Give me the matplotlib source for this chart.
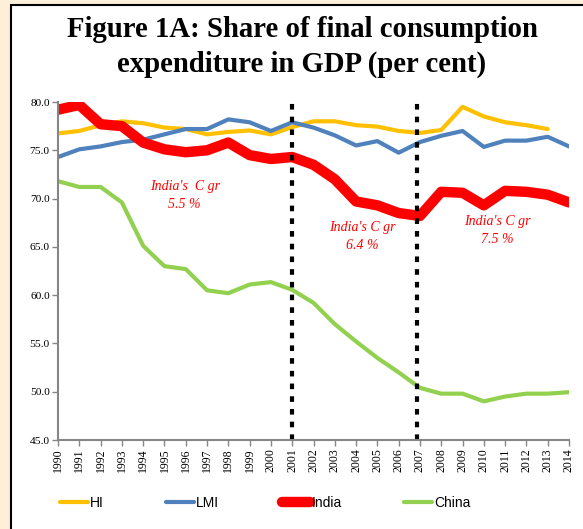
import matplotlib
matplotlib.use("Agg")
import matplotlib.pyplot as plt
from matplotlib.patches import Rectangle
from matplotlib.lines import Line2D

years = list(range(1990, 2015))

hi = [76.75, 77.0, 77.6, 78.0, 77.8, 77.35, 77.2, 76.65, 76.9, 77.05, 76.65, 77.4,
      78.0, 78.0, 77.6, 77.45, 77.0, 76.8, 77.1, 79.5, 78.5, 77.9, 77.6, 77.2, None]
lmi = [74.3, 75.1, 75.4, 75.85, 76.1, 76.65, 77.2, 77.2, 78.2, 77.9, 77.0, 77.9,
       77.35, 76.55, 75.5, 75.95, 74.75, 75.85, 76.5, 77.0, 75.35, 76.0, 76.0, 76.4, 75.4]
india = [79.2, 79.7, 77.7, 77.5, 75.8, 75.1, 74.8, 75.0, 75.8, 74.5, 74.1, 74.3,
         73.5, 72.0, 69.7, 69.3, 68.5, 68.2, 70.7, 70.6, 69.3, 70.8, 70.7, 70.4, 69.6]
china = [71.8, 71.2, 71.2, 69.6, 65.1, 63.0, 62.7, 60.5, 60.2, 61.1, 61.35, 60.55,
         59.2, 57.0, 55.2, 53.5, 52.0, 50.4, 49.8, 49.8, 49.0, 49.5, 49.8, 49.8, 49.95]

period_breaks = [2001, 2006.86]
notes = ["India's  C gr\n5.5 %", "India's C gr\n6.4 %", "India's C gr\n7.5 %"]
note_pos = [(1995.95, 70.33), (2004.28, 66.05), (2010.63, 66.67)]

fig = plt.figure(figsize=(5.83, 5.29), dpi=100)
fig.patch.set_facecolor("#FEF0D8")
# white panel with black border (runs off the right and bottom edges)
fig.patches.append(Rectangle((10.5 / 583, -0.05), 1.2, 1 - 4.5 / 529 + 0.05,
                             transform=fig.transFigure, facecolor="white",
                             edgecolor="black", linewidth=1.5, zorder=-10))

fig.text(0.518, 0.970, "Figure 1A: Share of final consumption\nexpenditure in GDP (per cent)",
         ha="center", va="top", fontsize=20.7, fontweight="bold",
         family="Liberation Serif", linespacing=1.38)

ax = fig.add_axes([58 / 583, 1 - 440 / 529, 511 / 583, 338 / 529], zorder=2)
ax.set_facecolor("none")

hi_x = [y for y, v in zip(years, hi) if v is not None]
hi_y = [v for v in hi if v is not None]
ax.plot(hi_x, hi_y, color="#FFC000", lw=3, solid_capstyle="round", label="HI")
ax.plot(years, lmi, color="#4F81BD", lw=3, solid_capstyle="round", label="LMI")
ax.plot(years, india, color="#FF0000", lw=7.5, solid_capstyle="round", label="India")
ax.plot(years, china, color="#92D050", lw=3, solid_capstyle="round", label="China")

for xb in period_breaks:
    ax.plot([xb, xb], [45, 80], color="black", lw=3.0,
            linestyle=(0, (1.35, 1.7)), clip_on=False)

for txt, (x, y) in zip(notes, note_pos):
    ax.text(x, y, txt, color="#FF0000", fontsize=10, style="italic",
            family="Liberation Serif", ha="center", va="center", linespacing=1.5)

ax.set_xlim(1990, 2014)
ax.set_ylim(45, 80)
ax.set_xticks(years)
ax.set_xticklabels([str(y) for y in years], rotation=90, family="Liberation Serif", fontsize=8.5)
ax.set_yticks([45, 50, 55, 60, 65, 70, 75, 80])
ax.set_yticklabels(["%.1f" % v for v in [45, 50, 55, 60, 65, 70, 75, 80]],
                   family="Liberation Serif", fontsize=8.2)
for s in ["top", "right"]:
    ax.spines[s].set_visible(False)
for s in ["left", "bottom"]:
    ax.spines[s].set_color("#868686")
    ax.spines[s].set_linewidth(1.5)
ax.tick_params(axis="both", colors="#868686", length=4, width=1, labelcolor="black", pad=2)

handles = [Line2D([], [], color="#FFC000", lw=3, solid_capstyle="round"),
           Line2D([], [], color="#4F81BD", lw=3, solid_capstyle="round"),
           Line2D([], [], color="#FF0000", lw=7.5, solid_capstyle="round"),
           Line2D([], [], color="#92D050", lw=3, solid_capstyle="round")]
fig.legend(handles, ["HI", "LMI", "India", "China"], loc="center left",
           bbox_to_anchor=(60 / 583, 1 - 503 / 529), ncol=4, frameon=False,
           borderpad=0, borderaxespad=0,
           prop={"family": "Liberation Sans", "size": 10},
           handlelength=2.0, handletextpad=0.15, columnspacing=4.5)

fig.savefig("out.png", dpi=100, facecolor=fig.get_facecolor())
